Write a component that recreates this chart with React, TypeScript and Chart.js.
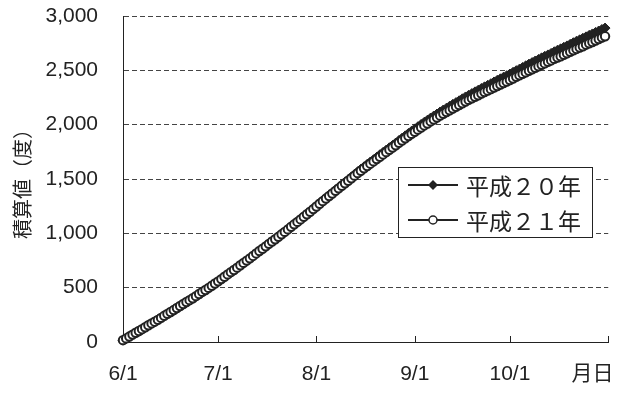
import React, { useEffect, useRef } from "react";
import { Chart, registerables } from "chart.js";

Chart.register(...registerables);

// Axis ticks (day index from 6/1)
const labelDays = [0, 30, 61, 92, 122, 148];
const tickLabels = ["6/1", "7/1", "8/1", "9/1", "10/1", "月日"];
const tickMarkDays = [30, 61, 92, 122, 153];
const yTicks = [0, 500, 1000, 1500, 2000, 2500, 3000];

const seriesNames = ["平成２０年", "平成２１年"];

// 積算値 (cumulative, degrees) per day, 6/1 .. 10/31
const h20 = [
  16, 33, 51, 68, 83, 99, 117, 136, 153, 169,
  186, 204, 222, 241, 258, 274, 292, 311, 331, 349,
  366, 384, 403, 422, 442, 460, 477, 496, 516, 537,
  557, 578, 600, 621, 641, 662, 684, 707, 729, 750,
  772, 795, 817, 838, 860, 883, 907, 930, 952, 973,
  995, 1018, 1042, 1066, 1089, 1111, 1134, 1158, 1181, 1205,
  1230, 1255, 1279, 1304, 1328, 1351, 1375, 1400, 1424, 1447,
  1471, 1494, 1518, 1543, 1567, 1590, 1612, 1635, 1657, 1678,
  1700, 1723, 1745, 1766, 1788, 1809, 1831, 1854, 1876, 1897,
  1919, 1940, 1961, 1981, 2002, 2022, 2041, 2061, 2080, 2098,
  2117, 2135, 2152, 2170, 2187, 2203, 2220, 2238, 2255, 2271,
  2286, 2302, 2317, 2333, 2348, 2362, 2377, 2393, 2408, 2422,
  2437, 2451, 2466, 2482, 2497, 2511, 2526, 2542, 2557, 2571,
  2586, 2600, 2615, 2629, 2642, 2656, 2671, 2685, 2698, 2712,
  2725, 2739, 2754, 2768, 2781, 2795, 2808, 2822, 2835, 2849,
  2862, 2876, 2889,
];

const h21 = [
  17, 33, 50, 68, 85, 101, 118, 136, 154, 171,
  187, 204, 222, 241, 259, 276, 294, 313, 331, 350,
  368, 385, 403, 422, 442, 461, 479, 498, 518, 538,
  558, 579, 600, 622, 643, 663, 684, 706, 728, 749,
  770, 792, 815, 837, 858, 880, 903, 925, 946, 968,
  991, 1013, 1036, 1060, 1083, 1105, 1128, 1152, 1176, 1199,
  1223, 1247, 1272, 1296, 1320, 1343, 1367, 1391, 1414, 1438,
  1461, 1484, 1507, 1531, 1554, 1576, 1598, 1619, 1641, 1662,
  1683, 1705, 1726, 1747, 1769, 1790, 1811, 1833, 1854, 1874,
  1895, 1915, 1935, 1954, 1974, 1993, 2011, 2030, 2048, 2065,
  2083, 2100, 2116, 2133, 2149, 2164, 2180, 2197, 2213, 2228,
  2242, 2257, 2271, 2286, 2300, 2313, 2327, 2342, 2356, 2369,
  2383, 2396, 2411, 2425, 2440, 2454, 2467, 2481, 2496, 2510,
  2523, 2537, 2551, 2564, 2578, 2591, 2605, 2618, 2630, 2643,
  2657, 2670, 2684, 2697, 2709, 2722, 2736, 2749, 2761, 2774,
  2788, 2801, 2813,
];

const INK = "#222222";
const FONT = '"Liberation Sans", "Noto Sans CJK JP", sans-serif';
const CJK = '"Noto Sans CJK JP", "Liberation Sans", sans-serif';

const insideTicks = {
  id: "insideTicks",
  afterDraw(chart: any) {
    const { ctx, scales } = chart;
    const x = scales.x;
    const bottom = chart.chartArea.bottom;
    ctx.save();
    ctx.strokeStyle = INK;
    ctx.lineWidth = 1;
    tickMarkDays.forEach((d) => {
      const px = Math.round(x.getPixelForValue(d)) + 0.5;
      ctx.beginPath();
      ctx.moveTo(px, bottom);
      ctx.lineTo(px, bottom - 6);
      ctx.stroke();
    });
    ctx.restore();
  },
};

const boxLegend = {
  id: "boxLegend",
  afterDraw(chart: any) {
    const { ctx } = chart;
    const bx = 398.5, by = 167.5, bw = 194, bh = 70;
    ctx.save();
    ctx.fillStyle = "#ffffff";
    ctx.fillRect(bx, by, bw, bh);
    ctx.strokeStyle = INK;
    ctx.lineWidth = 1;
    ctx.strokeRect(bx, by, bw, bh);
    const rows = [185, 220];
    chart.data.datasets.forEach((ds: any, i: number) => {
      const cy = rows[i];
      ctx.strokeStyle = INK;
      ctx.lineWidth = 2;
      ctx.beginPath();
      ctx.moveTo(408, cy);
      ctx.lineTo(458, cy);
      ctx.stroke();
      ctx.beginPath();
      if (ds.pointStyle === "rectRot") {
        const r = 5;
        ctx.moveTo(433, cy - r);
        ctx.lineTo(433 + r, cy);
        ctx.lineTo(433, cy + r);
        ctx.lineTo(433 - r, cy);
        ctx.closePath();
        ctx.fillStyle = INK;
        ctx.fill();
      } else {
        ctx.arc(433, cy, 4, 0, Math.PI * 2);
        ctx.fillStyle = "#ffffff";
        ctx.fill();
        ctx.lineWidth = 1.5;
        ctx.stroke();
      }
      ctx.fillStyle = INK;
      ctx.font = "23px " + CJK;
      ctx.textBaseline = "middle";
      ctx.textAlign = "left";
      ctx.fillText(ds.label, 466, cy + 1);
    });
    ctx.restore();
  },
};

export default function App() {
  const ref = useRef<HTMLCanvasElement | null>(null);

  useEffect(() => {
    if (!ref.current) return;
    const chart = new Chart(ref.current, {
      type: "line",
      data: {
        datasets: [
          {
            label: seriesNames[0],
            data: h20.map((v, i) => ({ x: i, y: v })),
            borderColor: INK,
            borderWidth: 2.5,
            pointStyle: "rectRot",
            pointRadius: 5,
            pointBackgroundColor: INK,
            pointBorderColor: INK,
            pointBorderWidth: 1,
            order: 2,
            clip: false,
          } as any,
          {
            label: seriesNames[1],
            data: h21.map((v, i) => ({ x: i, y: v })),
            borderColor: INK,
            borderWidth: 2.5,
            pointStyle: "circle",
            pointRadius: 4.2,
            pointBackgroundColor: "#ffffff",
            pointBorderColor: INK,
            pointBorderWidth: 2,
            order: 1,
            clip: false,
          } as any,
        ],
      },
      options: {
        animation: false,
        responsive: true,
        maintainAspectRatio: false,
        layout: { padding: { top: 16, right: 19, left: 0, bottom: 0 } },
        plugins: {
          legend: { display: false },
          tooltip: { enabled: false },
        },
        scales: {
          x: {
            type: "linear",
            min: 0,
            max: 153,
            afterBuildTicks: (s: any) => {
              s.ticks = labelDays.map((v) => ({ value: v }));
            },
            afterFit: (s: any) => {
              s.height = 52;
            },
            grid: { display: false, drawTicks: false },
            border: { display: true, color: INK, width: 1 },
            ticks: {
              autoSkip: false,
              maxRotation: 0,
              padding: 20,
              color: INK,
              font: { family: FONT, size: 21 },
              callback: (v: any) => {
                const idx = labelDays.indexOf(Number(v));
                return idx >= 0 ? tickLabels[idx] : "";
              },
            },
          },
          y: {
            min: 0,
            max: 3000,
            afterBuildTicks: (s: any) => {
              s.ticks = yTicks.map((v) => ({ value: v }));
            },
            afterFit: (s: any) => {
              s.width = 123;
            },
            grid: {
              drawTicks: true,
              tickLength: 25,
              tickColor: "rgba(0,0,0,0)",
              color: (c: any) => (c.tick && c.tick.value === 0 ? "rgba(0,0,0,0)" : "#444"),
              lineWidth: 1,
            },
            border: { display: true, color: INK, width: 1, dash: [5, 3] },
            ticks: {
              padding: 0,
              color: INK,
              font: { family: FONT, size: 21 },
              callback: (v: any) => Number(v).toLocaleString("en-US"),
            },
            title: {
              display: true,
              text: "積算値（度）",
              color: INK,
              font: { family: CJK, size: 20 },
              padding: { top: 10, bottom: 0 },
            },
          },
        },
      },
      plugins: [insideTicks, boxLegend],
    });
    return () => chart.destroy();
  }, []);

  return (
    <div style={{ position: "fixed", left: 0, top: 0, width: 634, height: 394, background: "#fff" }}>
      <canvas ref={ref} />
    </div>
  );
}
